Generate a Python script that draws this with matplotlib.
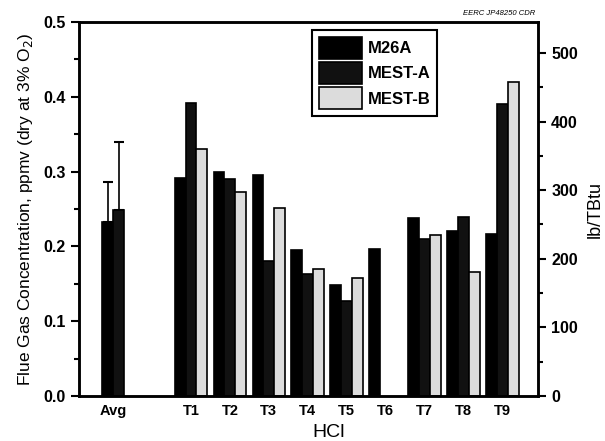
import numpy as np
import matplotlib.pyplot as plt
from matplotlib.ticker import MultipleLocator

plt.rcParams['font.family'] = ['Liberation Sans', 'DejaVu Sans']

groups = ["Avg", "T1", "T2", "T3", "T4", "T5", "T6", "T7", "T8", "T9"]
group_pos = [0, 2, 3, 4, 5, 6, 7, 8, 9, 10]
m26a = [0.233, 0.292, 0.299, 0.296, 0.195, 0.148, 0.197, 0.238, 0.221, 0.216]
mest_a = [0.249, 0.392, 0.290, 0.180, 0.163, 0.127, np.nan, 0.210, 0.239, 0.391]
mest_b = [np.nan, 0.330, 0.273, 0.251, 0.170, 0.158, np.nan, 0.215, 0.166, 0.420]
avg_err = [0.053, 0.091]  # upper error on Avg M26A, MEST-A

w = 0.28
fig = plt.figure(figsize=(6.05, 4.41), dpi=100)
ax = fig.add_axes([0.1306, 0.102, 0.7587, 0.848])

series = [("M26A", m26a, "#000000"), ("MEST-A", mest_a, "#111111"),
          ("MEST-B", mest_b, "#dcdcdc")]
for k, (name, vals, col) in enumerate(series):
    xs, hs = [], []
    for i, (p, v) in enumerate(zip(group_pos, vals)):
        if np.isnan(v):
            continue
        if i == 0:
            xs.append(p + (k - 0.5) * w)
        else:
            xs.append(p + (k - 1) * w)
        hs.append(v)
    ax.bar(xs, hs, width=w, color=col, edgecolor="black", linewidth=1.2,
           label=name, zorder=2)

# error bars on the averages (upper only)
ax.errorbar([group_pos[0] - 0.5 * w, group_pos[0] + 0.5 * w], [m26a[0], mest_a[0]],
            yerr=[[0, 0], avg_err], fmt="none", ecolor="black", elinewidth=1.2,
            capsize=3.5, capthick=1.5, zorder=1)

ax.set_xlim(-0.88, 10.92)
ax.set_ylim(0, 0.5)
ax.set_xticks(group_pos)
ax.set_xticklabels(groups, fontsize=10.5, fontweight="bold")
ax.tick_params(axis="x", length=0, pad=6)
ax.yaxis.set_minor_locator(MultipleLocator(0.05))
ax.tick_params(axis="y", which="major", direction="out", length=6, width=1.5)
ax.tick_params(axis="y", which="minor", direction="out", length=3.5, width=1.5)
ax.set_yticks(np.arange(0, 0.51, 0.1))
ax.set_yticklabels([f"{v:.1f}" for v in np.arange(0, 0.51, 0.1)],
                   fontweight="bold", fontsize=11.5)
for s in ax.spines.values():
    s.set_linewidth(1.8)

ax.set_ylabel("Flue Gas Concentration, ppmv (dry at 3% O$_2$)", fontsize=12.5,
              labelpad=6)
ax.set_xlabel("HCl", fontsize=14)
ax.xaxis.set_label_coords(0.543, -0.075)

ax2 = ax.twinx()
ax2.yaxis.set_minor_locator(MultipleLocator(50))
ax2.tick_params(axis="y", which="major", direction="out", length=6, width=1.5)
ax2.tick_params(axis="y", which="minor", direction="out", length=3.5, width=1.5)
ax2.set_yticks(np.arange(0, 501, 100))
ax2.set_yticklabels([str(v) for v in range(0, 501, 100)], fontweight="bold",
                    fontsize=11.5)
ax2.set_ylim(0, 545)
ax2.set_ylabel("lb/TBtu", fontsize=13, labelpad=6)
for s in ax2.spines.values():
    s.set_linewidth(1.8)

leg = ax.legend(loc="upper left", bbox_to_anchor=(0.508, 0.979), fancybox=False,
                edgecolor="black", framealpha=1, handlelength=2.6,
                handleheight=1.65, labelspacing=0.2, borderpad=0.4,
                handletextpad=0.35, borderaxespad=0,
                prop={"weight": "bold", "size": 12})
leg.get_frame().set_linewidth(1.5)

fig.text(0.884, 0.962, "EERC JP48250 CDR", fontsize=5.5, style="italic",
         ha="right", va="bottom")

fig.savefig("out.png", dpi=100)
